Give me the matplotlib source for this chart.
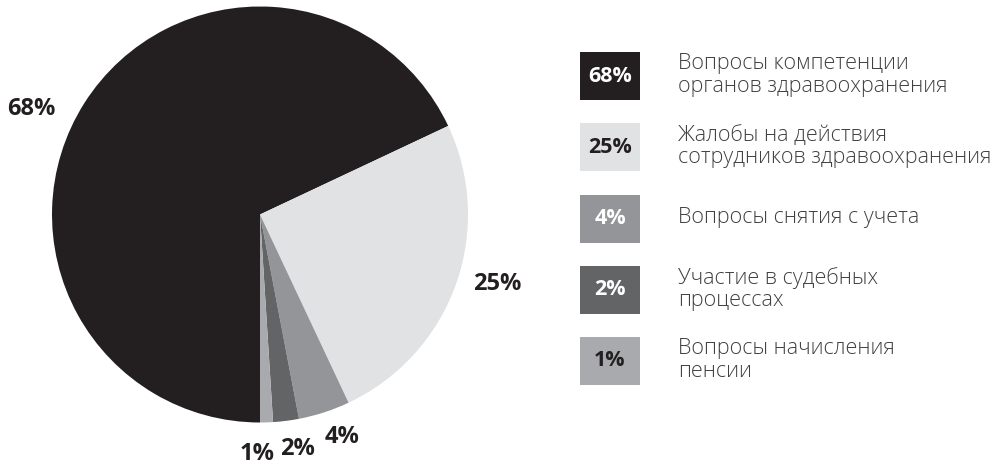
import matplotlib
matplotlib.use("Agg")
import matplotlib.pyplot as plt
from matplotlib.patches import Rectangle
import numpy as np

plt.rcParams['font.family'] = ['Open Sans', 'DejaVu Sans']

values = [68, 25, 4, 2, 1]
pct_labels = ["68%", "25%", "4%", "2%", "1%"]
categories = [
    "Вопросы компетенции\nорганов здравоохранения",
    "Жалобы на действия\nсотрудников здравоохранения",
    "Вопросы снятия с учета",
    "Участие в судебных\nпроцессах",
    "Вопросы начисления\nпенсии",
]
colors = ["#231f20", "#e1e2e3", "#939598", "#636466", "#a8aaad"]
box_text_colors = ["white", "#231f20", "white", "white", "#231f20"]

W, H = 1000, 466
fig = plt.figure(figsize=(W / 100, H / 100), dpi=100)

# pie axes: centre (260, 214.5) px, radius 208 px
cx, cy, R = 260, 214.5, 208
ax = fig.add_axes([(cx - R) / W, (H - cy - R) / H, 2 * R / W, 2 * R / H])
wedges, _ = ax.pie(values, colors=colors, startangle=-90, counterclock=False,
                   radius=1.0, wedgeprops=dict(linewidth=0))
ax.set_xlim(-1, 1)
ax.set_ylim(-1, 1)
ax.set_aspect('equal')
ax.axis('off')

# label placement (radius, angle offset in degrees)
label_r = [1.21, 1.19, 1.14, 1.14, 1.15]
label_dang = [7.5, 3.5, 2.3, 2.0, -2.5]
for w, lab, r, da in zip(wedges, pct_labels, label_r, label_dang):
    mid = np.deg2rad((w.theta1 + w.theta2) / 2 + da)
    ax.text(r * np.cos(mid), r * np.sin(mid), lab, ha='center', va='center',
            fontsize=17, fontweight='bold', color='#231f20', clip_on=False)

# legend in pixel coordinates
lax = fig.add_axes([0, 0, 1, 1])
lax.set_xlim(0, W)
lax.set_ylim(H, 0)
lax.axis('off')
box_x, box_w, box_h = 580, 60, 48
top0, step = 52, 71.25
for i, (lab, cat, col, tc) in enumerate(zip(pct_labels, categories, colors, box_text_colors)):
    top = top0 + i * step
    lax.add_patch(Rectangle((box_x, top), box_w, box_h, facecolor=col, edgecolor='none'))
    lax.text(box_x + box_w / 2, top + box_h / 2, lab, ha='center', va='center',
             fontsize=15.5, fontweight='bold', color=tc)
    lax.text(678, top + box_h / 2 - 1, cat, ha='left', va='center', fontsize=15.5,
             fontweight='light', color='#404040', linespacing=1.08)

fig.savefig("out.png", dpi=100, facecolor='white')
